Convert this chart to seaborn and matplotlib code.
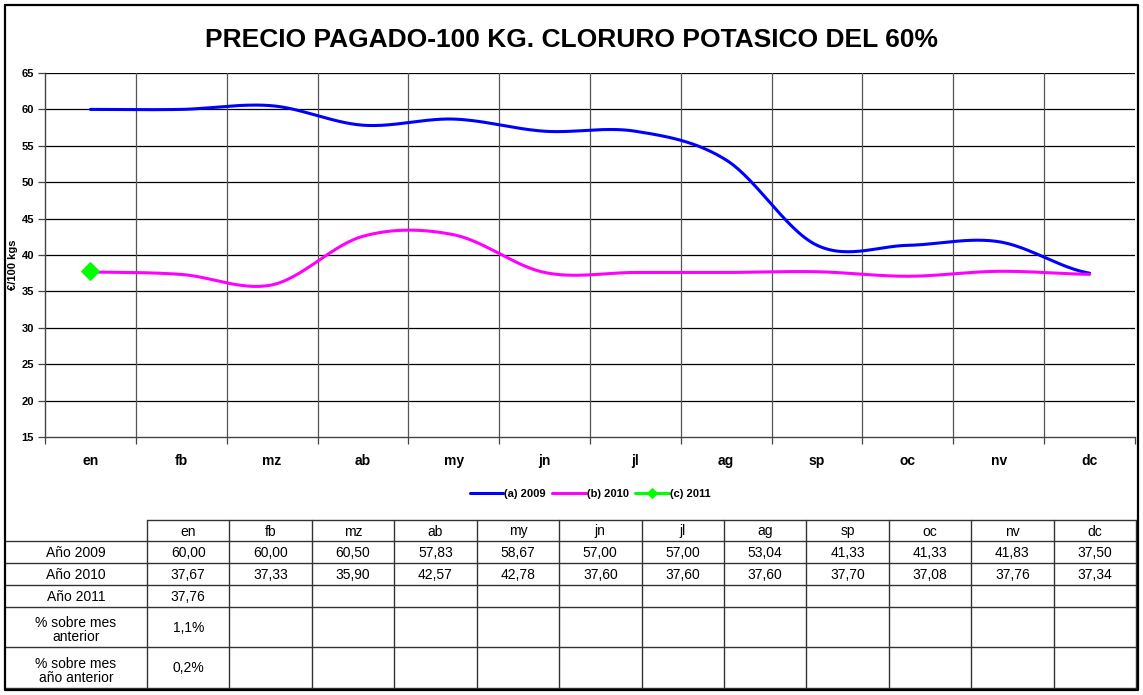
import numpy as np
import pandas as pd
import matplotlib
matplotlib.use("Agg")
import matplotlib.pyplot as plt
import seaborn as sns

sns.set_theme(style="white")
plt.rcParams["font.family"] = ["Liberation Sans", "DejaVu Sans"]
plt.rcParams.update({"text.color": "black", "axes.labelcolor": "black",
                     "xtick.color": "black", "ytick.color": "black"})

months = ["en", "fb", "mz", "ab", "my", "jn", "jl", "ag", "sp", "oc", "nv", "dc"]
precio_2009 = [60.00, 60.00, 60.50, 57.83, 58.67, 57.00, 57.00, 53.04, 41.33, 41.33, 41.83, 37.50]
precio_2010 = [37.67, 37.33, 35.90, 42.57, 42.78, 37.60, 37.60, 37.60, 37.70, 37.08, 37.76, 37.34]
precio_2011 = [37.76]
pct_mes_anterior = ["1,1%"]
pct_mes_anio_anterior = ["0,2%"]

W, H = 1143, 695
fig = plt.figure(figsize=(W / 100, H / 100), dpi=100)
fig.patch.set_facecolor("white")


def fx(px):
    return px / W


def fy(py):
    return 1 - py / H


def smooth(values, n=30):
    """Catmull-Rom style smoothing through every point."""
    y = np.asarray(values, dtype=float)
    x = np.arange(len(y), dtype=float)
    if len(y) < 2:
        return x, y
    px = np.concatenate([[2 * x[0] - x[1]], x, [2 * x[-1] - x[-2]]])
    py = np.concatenate([[y[0]], y, [y[-1]]])
    xs, ys = [], []
    for i in range(1, len(px) - 2):
        t = np.linspace(0, 1, n, endpoint=(i == len(px) - 3))
        p0, p1, p2, p3 = py[i - 1], py[i], py[i + 1], py[i + 2]
        q0, q1, q2, q3 = px[i - 1], px[i], px[i + 1], px[i + 2]
        # Bezier control points (tension 1/6, as spreadsheet smoothing)
        c1y = p1 + (p2 - p0) / 6
        c2y = p2 - (p3 - p1) / 6
        c1x = q1 + (q2 - q0) / 6
        c2x = q2 - (q3 - q1) / 6
        b = lambda a0, a1, a2, a3: ((1 - t) ** 3 * a0 + 3 * (1 - t) ** 2 * t * a1
                                    + 3 * (1 - t) * t ** 2 * a2 + t ** 3 * a3)
        xs.append(b(q1, c1x, c2x, q2))
        ys.append(b(p1, c1y, c2y, p2))
    return np.concatenate(xs), np.concatenate(ys)


# ---- chart area ----
ax = fig.add_axes([fx(45), fy(437), fx(1135) - fx(45), fy(73) - fy(437)])
ax.set_facecolor("white")

x09, y09 = smooth(precio_2009)
x10, y10 = smooth(precio_2010)
df09 = pd.DataFrame({"x": x09, "y": y09})
df10 = pd.DataFrame({"x": x10, "y": y10})
df11 = pd.DataFrame({"x": np.arange(len(precio_2011)), "y": precio_2011})

sns.lineplot(data=df09, x="x", y="y", ax=ax, color="#0000ff", lw=2.2, label="(a) 2009",
             sort=False, estimator=None)
sns.lineplot(data=df10, x="x", y="y", ax=ax, color="#ff00ff", lw=2.2, label="(b) 2010",
             sort=False, estimator=None)
sns.lineplot(data=df11, x="x", y="y", ax=ax, color="#00ff00", lw=2.2, marker="D",
             markersize=9, markeredgecolor="#00ff00", label="(c) 2011", estimator=None)

ax.set_xlim(-0.5, len(months) - 0.5)
ax.set_ylim(15, 65)
ax.set_yticks(np.arange(15, 66, 5))
ax.set_xticks(np.arange(-0.5, len(months) + 0.5, 1))
ax.set_xticklabels([])
ax.grid(False)
for v in np.arange(20, 66, 5):
    ax.axhline(v, color="black", lw=0.9, zorder=0)
for b in np.arange(0.5, len(months) - 0.5, 1):
    ax.axvline(b, color="#555555", lw=0.9, zorder=0)
for s in ["top", "right"]:
    ax.spines[s].set_visible(False)
for s in ["left", "bottom"]:
    ax.spines[s].set_color("#444444")
    ax.spines[s].set_linewidth(1.0)
ax.tick_params(axis="y", which="major", direction="out", length=5, width=0.9,
               color="#444444", labelsize=8, pad=3, left=True, labelcolor="black")
ax.tick_params(axis="x", which="major", direction="out", length=5, width=0.9,
               color="#444444", bottom=True)
for lab in ax.get_yticklabels():
    lab.set_fontweight("bold")
ax.set_xlabel("")
ax.set_ylabel("")
for i, m in enumerate(months):
    ax.text(i, -0.065, m, transform=ax.get_xaxis_transform(), ha="center", va="center",
            fontsize=10, fontweight="bold")

fig.text(fx(13), fy(265), "€/100 kgs", rotation=90, ha="center", va="center",
         fontsize=8, fontweight="bold")

leg = ax.legend(loc="center", bbox_to_anchor=(0.5, (437 - 494) / (437 - 73)), ncol=3,
                frameon=False, handlelength=3.0, handletextpad=0.1,
                columnspacing=0.6, prop={"weight": "bold", "size": 8})
for h in leg.legend_handles:
    h.set_markersize(5)

fig.text(0.5, fy(40), "PRECIO PAGADO-100 KG. CLORURO POTASICO DEL 60%", ha="center",
         va="center", fontsize=19, fontweight="bold")

# ---- data table ----
tab = fig.add_axes([0, 0, 1, 1], facecolor="none")
tab.set_xlim(0, W)
tab.set_ylim(H, 0)
tab.axis("off")

col_left = 147
col_w = (1136 - col_left) / len(months)
row_edges = [520, 541, 563, 585, 607, 647, 688]
row_labels = ["Año 2009", "Año 2010", "Año 2011", "% sobre mes\nanterior",
              "% sobre mes\naño anterior"]


def fmt(v):
    return f"{v:.2f}".replace(".", ",")


rows = [
    [fmt(v) for v in precio_2009],
    [fmt(v) for v in precio_2010],
    [fmt(v) for v in precio_2011],
    list(pct_mes_anterior),
    list(pct_mes_anio_anterior),
]

lc = "#333333"
# horizontal rules
tab.plot([col_left, 1136], [row_edges[0]] * 2, color=lc, lw=1)
for yv in row_edges[1:]:
    tab.plot([5, 1136], [yv, yv], color=lc, lw=1)
# vertical rules
tab.plot([col_left, col_left], [row_edges[0], row_edges[-1]], color=lc, lw=1)
for k in range(1, len(months) + 1):
    xv = col_left + k * col_w
    tab.plot([xv, xv], [row_edges[0], row_edges[-1]], color=lc, lw=1)

for j, m in enumerate(months):
    tab.text(col_left + (j + 0.5) * col_w, (row_edges[0] + row_edges[1]) / 2 + 1, m,
             ha="center", va="center", fontsize=10)
for r, (lab, vals) in enumerate(zip(row_labels, rows)):
    yc = (row_edges[r + 1] + row_edges[r + 2]) / 2 + 1
    tab.text(76, yc + (2 if "\n" in lab else 0), lab, ha="center", va="center",
             fontsize=10, linespacing=1.0)
    for j, val in enumerate(vals):
        tab.text(col_left + (j + 0.5) * col_w, yc, val, ha="center", va="center",
                 fontsize=10)

# outer frame
tab.plot([5, 1138, 1138, 5, 5], [5, 5, 690, 690, 5], color="black", lw=1.6)

fig.savefig("out.png", dpi=100, facecolor="white")
